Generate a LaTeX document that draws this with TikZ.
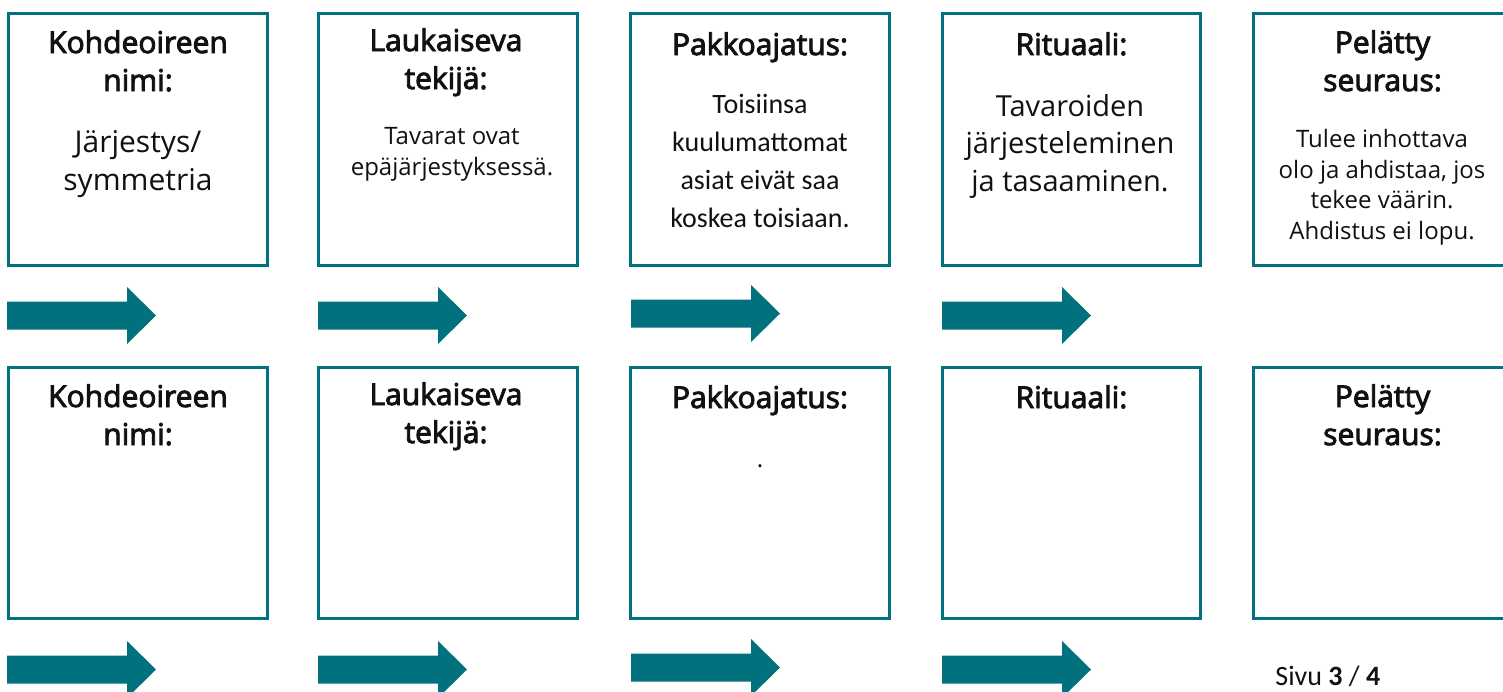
\documentclass[tikz,border=0pt]{standalone}
\usepackage{fontspec}
\setmainfont{Open Sans}
\newfontfamily\titlefont[FakeBold=3]{Open Sans}
\newfontfamily\calfont{Carlito}
\definecolor{teal1}{RGB}{0,114,127}
\definecolor{teal2}{RGB}{0,113,125}
\definecolor{ink}{RGB}{17,17,17}
\tikzset{
  box/.style={draw=teal1, line width=1.5pt, fill=white, inner sep=0pt,
    minimum width=129.25pt, minimum height=125.75pt},
  ttl/.style={anchor=base, align=center, inner sep=0pt, text=ink,
    font=\titlefont\fontsize{15}{19}\selectfont},
  bodyL/.style={anchor=base, align=center, inner sep=0pt, text=ink,
    font=\fontsize{14.5}{18.75}\selectfont},
  bodyS/.style={anchor=base, align=center, inner sep=0pt, text=ink,
    font=\fontsize{12}{15.25}\selectfont},
  bodyC/.style={anchor=base, align=center, inner sep=0pt, text=ink,
    font=\calfont\fontsize{14}{19}\selectfont},
  blockarrow/.pic={\fill[teal2] (0,-14) -- (120,-14) -- (120,-28.5) -- (149,0)
    -- (120,28.5) -- (120,14) -- (0,14) -- cycle;}
}
\begin{document}
\begin{tikzpicture}[x=0.5pt,y=-0.5pt]
\clip (0,0) rectangle (1503,691);
\fill[white] (0,0) rectangle (1503,691);
% row 1 boxes
\node[box] (b1) at (138,139.5) {};
\node[box] (b2) at (448,139.5) {};
\node[box] (b3) at (760,139.5) {};
\node[box] (b4) at (1071.5,139.5) {};
\node[box] (b5) at (1382.25,139.5) {};
% row 2 boxes
\node[box] (c1) at (138,493) {};
\node[box] (c2) at (448,493) {};
\node[box] (c3) at (760,493) {};
\node[box] (c4) at (1071.5,493) {};
\node[box] (c5) at (1382.25,493) {};
% row 1 texts (anchor = baseline of last line)
\node[ttl] (t1) at (138,91) {Kohdeoireen\\nimi:};
\node[bodyL, font=\fontsize{15}{18.75}\selectfont] (x1) at (138,190) {Järjestys/\\symmetria};
\node[ttl] (t2) at (446,89) {Laukaiseva\\tekijä:};
\node[bodyS] (x2) at (452,175) {Tavarat ovat\\epäjärjestyksessä.};
\node[ttl] (t3) at (760,55) {Pakkoajatus:};
\node[bodyC] (x3) at (760,227) {Toisiinsa\\kuulumattomat\\asiat eivät saa\\koskea toisiaan.};
\node[ttl] (t4) at (1071.5,55) {Rituaali:};
\node[bodyL] (x4) at (1070,191) {Tavaroiden\\järjesteleminen\\ja tasaaminen.};
\node[ttl] (t5) at (1382.5,91) {Pelätty\\seuraus:};
\node[bodyS] (x5) at (1382,239) {Tulee inhottava\\olo ja ahdistaa, jos\\tekee väärin.\\Ahdistus ei lopu.};
% row 2 texts
\node[ttl] (u1) at (138,445) {Kohdeoireen\\nimi:};
\node[ttl] (u2) at (446,443) {Laukaiseva\\tekijä:};
\node[ttl] (u3) at (760,408) {Pakkoajatus:};
\node[bodyS] (dot) at (760,467) {.};
\node[ttl] (u4) at (1071.5,408) {Rituaali:};
\node[ttl] (u5) at (1382.5,445) {Pelätty\\seuraus:};
% arrows
\pic at (7,315.5) {blockarrow};
\pic at (318,315.5) {blockarrow};
\pic at (631,313.5) {blockarrow};
\pic at (942,315.5) {blockarrow};
\pic at (7,669.5) {blockarrow};
\pic at (318,669.5) {blockarrow};
\pic at (631,667.5) {blockarrow};
\pic at (942,669.5) {blockarrow};
% page number
\node[anchor=base west, inner sep=0pt, text=ink, font=\calfont\fontsize{14}{16}\selectfont] (pg) at (1275,685) {Sivu \textbf{3} / \textbf{4}};
\end{tikzpicture}
\end{document}
